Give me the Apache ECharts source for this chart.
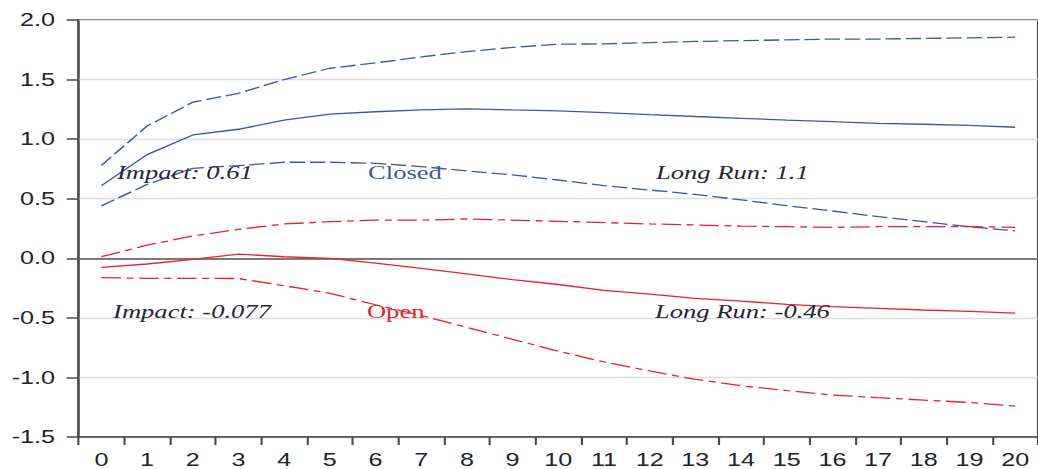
<!DOCTYPE html>
<html>
<head>
<meta charset="utf-8">
<script src="https://cdn.jsdelivr.net/npm/echarts@6/dist/echarts.min.js"></script>
<style>
  html, body { margin: 0; padding: 0; background: #fff; overflow: hidden; }
  #wrap { width: 1038px; height: 469px; overflow: hidden; }
  /* the figure is laid out on a narrower canvas and widened horizontally */
  #chart { width: 742px; height: 469px; transform: scaleX(1.39892); transform-origin: 0 0; }
</style>
</head>
<body>
<div id="wrap"><div id="chart"></div></div>
<script>
// Horizon (periods after the shock)
const horizons = ['0','1','2','3','4','5','6','7','8','9','10','11','12','13','14','15','16','17','18','19','20'];

// Closed economy: response and confidence band
const closedUpper = [0.78, 1.11, 1.31, 1.385, 1.50, 1.595, 1.64, 1.69, 1.735, 1.77, 1.797, 1.80, 1.81, 1.82, 1.827, 1.833, 1.84, 1.84, 1.845, 1.85, 1.856];
const closedMid   = [0.61, 0.87, 1.035, 1.083, 1.16, 1.21, 1.23, 1.245, 1.254, 1.245, 1.237, 1.223, 1.206, 1.19, 1.175, 1.16, 1.147, 1.133, 1.125, 1.115, 1.1];
const closedLower = [0.44, 0.62, 0.755, 0.778, 0.806, 0.806, 0.797, 0.77, 0.733, 0.70, 0.657, 0.61, 0.573, 0.537, 0.49, 0.442, 0.397, 0.35, 0.307, 0.265, 0.23];

// Open economy: response and confidence band
const openUpper = [0.013, 0.11, 0.187, 0.243, 0.288, 0.307, 0.32, 0.32, 0.33, 0.32, 0.31, 0.30, 0.288, 0.28, 0.27, 0.265, 0.26, 0.265, 0.265, 0.265, 0.26];
const openMid   = [-0.077, -0.048, -0.01, 0.035, 0.013, 0.0, -0.04, -0.084, -0.13, -0.18, -0.22, -0.27, -0.30, -0.336, -0.36, -0.386, -0.406, -0.42, -0.434, -0.445, -0.46];
const openLower = [-0.163, -0.168, -0.168, -0.17, -0.23, -0.294, -0.39, -0.48, -0.58, -0.68, -0.78, -0.87, -0.946, -1.016, -1.07, -1.11, -1.148, -1.17, -1.19, -1.21, -1.24];

// Value axis
const yMin = -1.5, yMax = 2.0, yStep = 0.5;

const BLUE = '#3b57a8';
const RED = '#e8232c';
const INK = '#262636';
const AXIS = '#4a4a4a';

function curve(name, data, color, dash) {
  return {
    name: name,
    type: 'line',
    data: data,
    symbol: 'none',
    silent: true,
    lineStyle: { color: color, width: 1.3, type: dash },
    z: 3
  };
}

function note(text, x, y, color, italic) {
  return {
    type: 'text',
    x: x,
    y: y,
    silent: true,
    z: 10,
    style: {
      text: text,
      fill: color,
      fontFamily: '"Liberation Serif", "Times New Roman", serif',
      fontSize: 19,
      fontStyle: italic ? 'italic' : 'normal',
      align: 'left',
      verticalAlign: 'middle'
    }
  };
}

const chart = echarts.init(document.getElementById('chart'), null, { renderer: 'svg' });

chart.setOption({
  animation: false,
  backgroundColor: '#ffffff',
  grid: {
    left: 56.16, right: -2.75, top: 20, bottom: 32,
    show: true, borderColor: AXIS, borderWidth: 1.5, backgroundColor: 'transparent'
  },
  xAxis: {
    type: 'category',
    data: horizons,
    boundaryGap: true,
    axisLine: { onZero: false, lineStyle: { color: AXIS, width: 1.5 } },
    axisTick: { show: true, inside: false, length: 8, lineStyle: { color: AXIS, width: 1.5 } },
    axisLabel: {
      margin: 14, color: '#22222e', fontSize: 18,
      fontFamily: '"Liberation Sans", Arial, sans-serif', interval: 0
    },
    splitLine: { show: false }
  },
  yAxis: {
    type: 'value',
    min: yMin, max: yMax, interval: yStep,
    axisLine: { show: true, lineStyle: { color: AXIS, width: 1.5 } },
    axisTick: { show: true, inside: false, length: 8.5, lineStyle: { color: AXIS, width: 1.5 } },
    axisLabel: {
      margin: 16.8, color: '#22222e', fontSize: 18,
      fontFamily: '"Liberation Sans", Arial, sans-serif',
      formatter: function (v) { return v.toFixed(1); }
    },
    splitLine: { show: true, lineStyle: { color: '#dedede', width: 1.4 } }
  },
  series: [
    Object.assign(curve('Closed upper', closedUpper, BLUE, [11, 3.5]), {
      markLine: {
        silent: true, symbol: 'none', label: { show: false },
        lineStyle: { color: '#555555', width: 1.6, type: 'solid' },
        data: [{ yAxis: 0 }], z: 2
      }
    }),
    curve('Closed', closedMid, BLUE, 'solid'),
    curve('Closed lower', closedLower, BLUE, [11, 3.5]),
    curve('Open upper', openUpper, RED, [14, 4, 5, 4]),
    curve('Open', openMid, RED, 'solid'),
    curve('Open lower', openLower, RED, [14, 4, 5, 4])
  ],
  graphic: [
    note('Impact: ' + closedMid[0], 83.6, 172, INK, true),
    note('Closed', 263.1, 172, BLUE, false),
    note('Long Run: ' + closedMid[closedMid.length - 1], 468.9, 172, INK, true),
    note('Impact: ' + openMid[0], 80.8, 311.5, INK, true),
    note('Open', 262.3, 311.5, RED, false),
    note('Long Run: ' + openMid[openMid.length - 1], 468.2, 311.5, INK, true)
  ]
});
</script>
</body>
</html>
